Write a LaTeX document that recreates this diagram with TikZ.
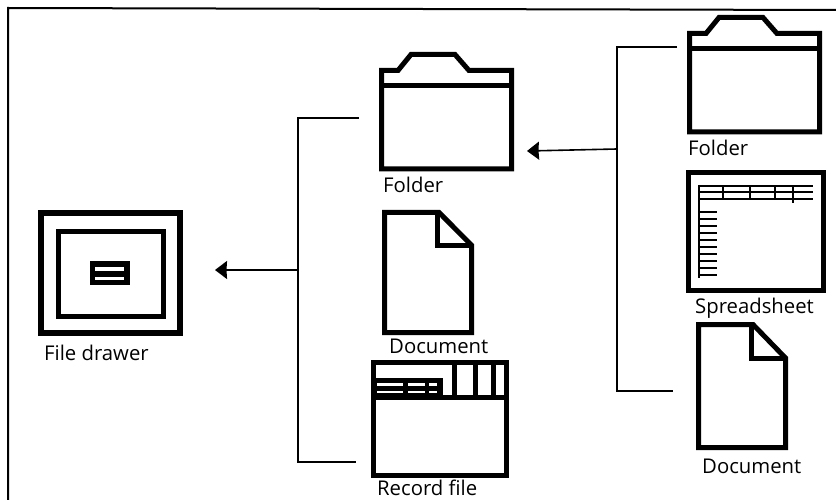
\documentclass[tikz,border=0pt]{standalone}
\usepackage{fontspec}
\setmainfont{Open Sans}
\usetikzlibrary{arrows.meta}
\tikzset{
  >={Stealth[length=12pt,width=18pt,inset=0.5pt]},
  iconline/.style={line width=5pt,miter limit=10},
  gridline/.style={line width=1.5pt},
  link/.style={line width=1.6pt},
  flow/.style={->,line width=1.6pt},
  iconlbl/.style={font=\fontsize{20.3}{22}\selectfont,anchor=base west,inner sep=0pt},
  folder icon/.pic={
    \draw[iconline] (2.5,18.5) -- (19,18.5) -- (32,2.5) -- (76,2.5) -- (90,18.5)
      -- (132.5,18.5) -- (132.5,117) -- (2.5,117) -- cycle;
    \draw[iconline] (2.5,34) -- (132.5,34);
  },
  doc icon/.pic={
    \draw[iconline] (2.5,2.5) -- (57,2.5) -- (89.5,36) -- (89.5,125.5) -- (2.5,125.5) -- cycle;
    \draw[iconline] (55,2.5) -- (55,36) -- (89.5,36);
  },
  drawer icon/.pic={
    \draw[line width=6pt] (3,3) rectangle (142,123);
    \draw[iconline] (20.5,21.5) rectangle (125,106);
    \fill (52,51) rectangle (92,75);
    \fill[white] (57,57) rectangle (86,61);
    \fill[white] (57,67) rectangle (86,70);
  },
  record icon/.pic={
    \draw[iconline] (2.5,2.5) rectangle (135.5,115.5);
    \draw[iconline] (2.5,37) -- (135.5,37);
    \foreach \vx in {83,104,122}
      \draw[iconline] (\vx,2.5) -- (\vx,37);
    \fill (0,18) rectangle (72,37);
    \foreach \ry in {23.3,31}
      \foreach \xa/\xb in {6/32,37/54,58/66}
        \fill[white] (\xa,\ry) rectangle (\xb,\ry+2.3);
  },
  sheet icon/.pic={
    \draw[iconline] (2.5,2.5) rectangle (137.5,120.5);
    \draw[line width=2pt] (13,15) -- (13,108);
    \foreach \hy in {16,22,29}
      \draw[gridline] (13,\hy) -- (127,\hy);
    \foreach \vx/\vy in {37/29,64/29,89/29,107/33}
      \draw[line width=2pt] (\vx,16) -- (\vx,\vy);
    \foreach \ry in {42,49,...,105}
      \draw[gridline] (13,\ry) -- (31,\ry);
  },
}
\begin{document}
\begin{tikzpicture}[x=1pt,y=-1pt]
  \useasboundingbox (0,0) rectangle (836,500);
  % outer frame, open on two sides
  \coordinate (fbl) at (8,500);
  \coordinate (ftl) at (8,8);
  \coordinate (ftr) at (836,10);
  \draw[line width=2pt] (fbl) -- (ftl) -- (ftr);

  \pic at (38,210) {drawer icon};
  \node[iconlbl] (drawerlbl) at (44,360) {File drawer};

  \pic at (379,52) {folder icon};
  \node[iconlbl] (folderlbl) at (383,193) {Folder};
  \pic[yscale=0.977] at (382,210) {doc icon};
  \node[iconlbl] (doclbl) at (389,353) {Document};
  \pic at (371,360) {record icon};
  \node[iconlbl] (recordlbl) at (377,495.5) {Record file};

  \pic at (687,15) {folder icon};
  \node[iconlbl] (rfolderlbl) at (688,156) {Folder};
  \pic at (686,170) {sheet icon};
  \node[iconlbl] (rsheetlbl) at (695,313) {Spreadsheet};
  \pic at (696,322) {doc icon};
  \node[iconlbl] (rdoclbl) at (702,473) {Document};

  % brackets and arrows
  \coordinate (midtop) at (359,118);
  \coordinate (midbot) at (356,462);
  \coordinate (midbus) at (298,270);
  \coordinate (midtip) at (215,270);
  \draw[link] (midtop) -| (midbus) |- (midbot);
  \draw[flow] (midbus) -- (midtip);

  \coordinate (rtop) at (677,47);
  \coordinate (rbot) at (673,391);
  \coordinate (rbus) at (617,149);
  \coordinate (rtip) at (527,151);
  \draw[link] (rtop) -| (rbus) |- (rbot);
  \draw[flow] (rbus) -- (rtip);
\end{tikzpicture}
\end{document}
